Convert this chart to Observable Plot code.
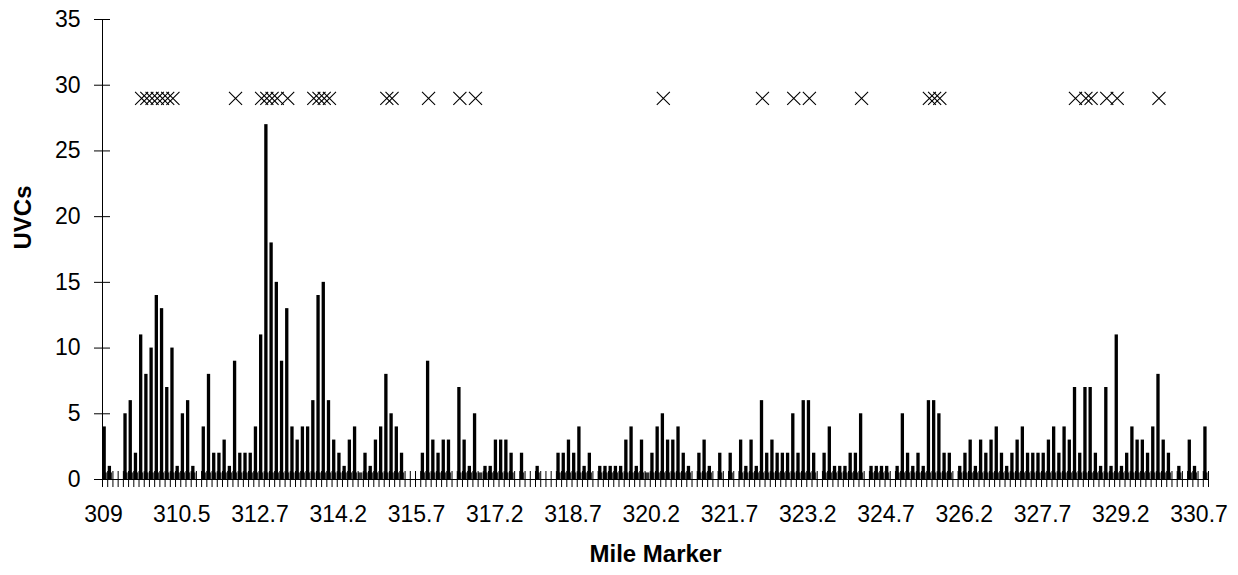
<!DOCTYPE html>
<html><head><meta charset="utf-8">
<script src="https://cdn.jsdelivr.net/npm/d3@7"></script>
<script src="https://cdn.jsdelivr.net/npm/@observablehq/plot@0.6"></script>
<style>html,body{margin:0;padding:0;background:#fff}#chart svg{display:block}</style>
</head><body><div id="chart"></div>
<script>
// Mile marker categories (212)
const miles = [
  309, 309.1, 309.2, 309.3, 309.4, 309.5, 309.6, 309.7, 309.8, 309.9,
  310, 310.1, 310.2, 310.3, 310.4, 310.5, 310.6, 310.7, 310.8, 311.2,
  311.3, 311.4, 311.5, 311.6, 311.7, 311.8, 312.3, 312.4, 312.5, 312.6,
  312.7, 312.8, 312.9, 313, 313.1, 313.2, 313.3, 313.4, 313.5, 313.6,
  313.7, 313.8, 313.9, 314, 314.1, 314.2, 314.3, 314.4, 314.5, 314.6,
  314.7, 314.8, 314.9, 315, 315.1, 315.2, 315.3, 315.4, 315.5, 315.6,
  315.7, 315.8, 315.9, 316, 316.1, 316.2, 316.3, 316.4, 316.5, 316.6,
  316.7, 316.8, 316.9, 317, 317.1, 317.2, 317.3, 317.4, 317.5, 317.6,
  317.7, 317.8, 317.9, 318, 318.1, 318.2, 318.3, 318.4, 318.5, 318.6,
  318.7, 318.8, 318.9, 319, 319.1, 319.2, 319.3, 319.4, 319.5, 319.6,
  319.7, 319.8, 319.9, 320, 320.1, 320.2, 320.3, 320.4, 320.5, 320.6,
  320.7, 320.8, 320.9, 321, 321.1, 321.2, 321.3, 321.4, 321.5, 321.6,
  321.7, 321.8, 321.9, 322, 322.1, 322.2, 322.3, 322.4, 322.5, 322.6,
  322.7, 322.8, 322.9, 323, 323.1, 323.2, 323.3, 323.4, 323.5, 323.6,
  323.7, 323.8, 323.9, 324, 324.1, 324.2, 324.3, 324.4, 324.5, 324.6,
  324.7, 324.8, 324.9, 325, 325.1, 325.2, 325.3, 325.4, 325.5, 325.6,
  325.7, 325.8, 325.9, 326, 326.1, 326.2, 326.3, 326.4, 326.5, 326.6,
  326.7, 326.8, 326.9, 327, 327.1, 327.2, 327.3, 327.4, 327.5, 327.6,
  327.7, 327.8, 327.9, 328, 328.1, 328.2, 328.3, 328.4, 328.5, 328.6,
  328.7, 328.8, 328.9, 329, 329.1, 329.2, 329.3, 329.4, 329.5, 329.6,
  329.7, 329.8, 329.9, 330, 330.1, 330.2, 330.3, 330.4, 330.5, 330.6,
  330.7, 330.8
];

// UVC counts per mile marker
const uvcs = [
  4, 1, 0, 0, 5, 6, 2, 11, 8, 10,
  14, 13, 7, 10, 1, 5, 6, 1, 0, 4,
  8, 2, 2, 3, 1, 9, 2, 2, 2, 4,
  11, 27, 18, 15, 9, 13, 4, 3, 4, 4,
  6, 14, 15, 6, 3, 2, 1, 3, 4, 0,
  2, 1, 3, 4, 8, 5, 4, 2, 0, 0,
  0, 2, 9, 3, 2, 3, 3, 0, 7, 3,
  1, 5, 0, 1, 1, 3, 3, 3, 2, 0,
  2, 0, 0, 1, 0, 0, 0, 2, 2, 3,
  2, 4, 1, 2, 0, 1, 1, 1, 1, 1,
  3, 4, 1, 3, 0, 2, 4, 5, 3, 3,
  4, 2, 1, 0, 2, 3, 1, 0, 2, 0,
  2, 0, 3, 1, 3, 1, 6, 2, 3, 2,
  2, 2, 5, 2, 6, 6, 2, 0, 2, 4,
  1, 1, 1, 2, 2, 5, 0, 1, 1, 1,
  1, 0, 1, 5, 2, 1, 2, 1, 6, 6,
  5, 2, 2, 0, 1, 2, 3, 1, 3, 2,
  3, 4, 2, 1, 2, 3, 4, 2, 2, 2,
  2, 3, 4, 2, 4, 3, 7, 2, 7, 7,
  2, 1, 7, 1, 11, 1, 2, 4, 3, 3,
  2, 4, 8, 3, 2, 0, 1, 0, 3, 1,
  0, 4
];

// Short dark series along the baseline
const segment = [
  0.5, 0.5, 0, 0, 0.5, 0.5, 0.5, 0.5, 0.5, 0.5,
  0.5, 0.5, 0.5, 0.5, 0.5, 0.5, 0.5, 0.5, 0, 0.5,
  0.5, 0.5, 0.5, 0.5, 0.5, 0.5, 0.5, 0.5, 0.5, 0.5,
  0.5, 0.5, 0.5, 0.5, 0.5, 0.5, 0.5, 0.5, 0.5, 0.5,
  0.5, 0.5, 0.5, 0.5, 0.5, 0.5, 0.5, 0.5, 0.5, 0.5,
  0.5, 0.5, 0.5, 0.5, 0.5, 0.5, 0.5, 0.5, 0, 0,
  0, 0.5, 0.5, 0.5, 0.5, 0.5, 0.5, 0, 0.5, 0.5,
  0.5, 0.5, 0.5, 0.5, 0.5, 0.5, 0.5, 0.5, 0.5, 0,
  0.5, 0, 0, 0.5, 0, 0, 0, 0.5, 0.5, 0.5,
  0.5, 0.5, 0.5, 0.5, 0, 0.5, 0.5, 0.5, 0.5, 0.5,
  0.5, 0.5, 0.5, 0.5, 0.5, 0.5, 0.5, 0.5, 0.5, 0.5,
  0.5, 0.5, 0.5, 0, 0.5, 0.5, 0.5, 0, 0.5, 0,
  0.5, 0, 0.5, 0.5, 0.5, 0.5, 0.5, 0.5, 0.5, 0.5,
  0.5, 0.5, 0.5, 0.5, 0.5, 0.5, 0.5, 0, 0.5, 0.5,
  0.5, 0.5, 0.5, 0.5, 0.5, 0.5, 0, 0.5, 0.5, 0.5,
  0.5, 0, 0.5, 0.5, 0.5, 0.5, 0.5, 0.5, 0.5, 0.5,
  0.5, 0.5, 0.5, 0, 0.5, 0.5, 0.5, 0.5, 0.5, 0.5,
  0.5, 0.5, 0.5, 0.5, 0.5, 0.5, 0.5, 0.5, 0.5, 0.5,
  0.5, 0.5, 0.5, 0.5, 0.5, 0.5, 0.5, 0.5, 0.5, 0.5,
  0.5, 0.5, 0.5, 0.5, 0.5, 0.5, 0.5, 0.5, 0.5, 0.5,
  0.5, 0.5, 0.5, 0.5, 0.5, 0, 0.5, 0, 0.5, 0.5,
  0, 0.5
];

// X markers drawn at 29
const markerMiles = [
  309.7, 309.8, 309.9, 310, 310.1, 310.2, 310.3, 311.8,
  312.7, 312.8, 312.9, 313, 313.2, 313.7, 313.8, 313.9, 314,
  315.1, 315.2, 315.9, 316.5, 316.8, 320.4, 322.3, 322.9, 323.2,
  324.2, 325.5, 325.6, 325.7, 328.3, 328.5, 328.6, 328.9, 329.1, 329.9
];
const markerValues = [
  29, 29, 29, 29, 29, 29, 29, 29,
  29, 29, 29, 29, 29, 29, 29, 29, 29,
  29, 29, 29, 29, 29, 29, 29, 29, 29,
  29, 29, 29, 29, 29, 29, 29, 29, 29, 29
];

const xTickLabels = [309, 310.5, 312.7, 314.2, 315.7, 317.2, 318.7, 320.2, 321.7, 323.2, 324.7, 326.2, 327.7, 329.2, 330.7];
const yTicks = [0, 5, 10, 15, 20, 25, 30, 35];

const W = 1238, H = 575, ML = 102, MR = 30, MT = 19, MB = 96;
const bw = (W - ML - MR) / miles.length;
const font = "'Liberation Sans', Arial, Helvetica, sans-serif";

const rows = miles.map((m, i) => ({mile: m, uvc: uvcs[i], seg: segment[i]}));
const markers = markerMiles.map((m, i) => ({mile: m, v: markerValues[i]}));

const chart = Plot.plot({
  width: W, height: H,
  marginLeft: ML, marginRight: MR, marginTop: MT, marginBottom: MB,
  style: {fontFamily: font, fontSize: "23px", color: "#000", background: "#fff", overflow: "visible"},
  x: {type: "band", domain: miles, padding: 0, round: false},
  y: {domain: [0, 35]},
  marks: [
    Plot.barY(rows, {x: "mile", y: "seg", fill: "#333", insetLeft: 0.4, insetRight: 0.4}),
    Plot.barY(rows, {x: "mile", y: "uvc", fill: "#000", insetLeft: 0.5, insetRight: 1.4}),
    Plot.axisX({ticks: miles, tickSize: 16, dy: -8, dx: -bw / 2, text: null, label: null, stroke: "#000"}),
    Plot.axisX({ticks: [miles[miles.length - 1]], tickSize: 16, dy: -8, dx: bw / 2, text: null, label: null, stroke: "#000"}),
    Plot.axisX({ticks: xTickLabels, tickSize: 0, tickPadding: 26, dx: -bw / 2 + 1, label: null, fontSize: 23, tickFormat: d => String(d)}),
    Plot.axisY({ticks: yTicks, tickSize: 16, dx: 8, text: null, label: null, stroke: "#000"}),
    Plot.axisY({ticks: yTicks, tickSize: 0, tickPadding: 22, label: null, fontSize: 23}),
    Plot.ruleY([0], {stroke: "#000"}),
    Plot.ruleX([miles[0]], {y1: 0, y2: 35, dx: -bw / 2, stroke: "#000"}),
    Plot.dot(markers, {x: "mile", y: "v", symbol: "times", r: 6, stroke: "#000", strokeWidth: 1.1}),
    Plot.text(["UVCs"], {frameAnchor: "left", dx: -79, rotate: -90, fontWeight: "bold", fontSize: 24}),
    Plot.text(["Mile Marker"], {frameAnchor: "bottom", dy: 82, fontWeight: "bold", fontSize: 24})
  ]
});
document.getElementById("chart").appendChild(chart);
</script>
</body></html>
